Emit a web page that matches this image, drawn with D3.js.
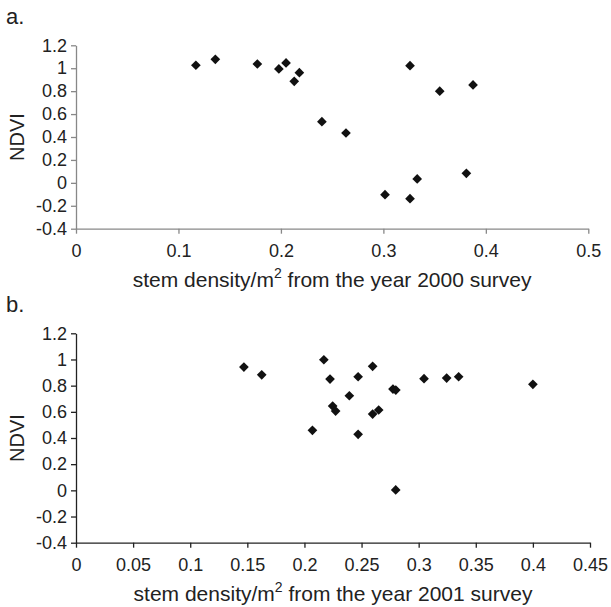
<!DOCTYPE html>
<html>
<head>
<meta charset="utf-8">
<script src="https://cdn.jsdelivr.net/npm/d3@7"></script>
<style>
  body { margin: 0; background: #fff; }
  text { font-family: "Liberation Sans", Arial, sans-serif; }
</style>
</head>
<body>
<svg id="chart" width="611" height="607"></svg>
<script>
// Panel a: 2000 survey
const stem2000 = [0.117, 0.136, 0.177, 0.198, 0.205, 0.213, 0.218, 0.326, 0.355, 0.3875, 0.240, 0.2635, 0.3016, 0.326, 0.333, 0.381];
const ndvi2000 = [1.026, 1.078, 1.037, 0.994, 1.046, 0.886, 0.961, 1.022, 0.80, 0.854, 0.534, 0.435, -0.103, -0.138, 0.034, 0.083];

// Panel b: 2001 survey
const stem2001 = [0.147, 0.1626, 0.207, 0.217, 0.2224, 0.2247, 0.2273, 0.2393, 0.247, 0.247, 0.2597, 0.2597, 0.265, 0.2775, 0.280, 0.2799, 0.3047, 0.3245, 0.335, 0.400];
const ndvi2001 = [0.942, 0.883, 0.459, 0.998, 0.85, 0.644, 0.606, 0.723, 0.868, 0.428, 0.948, 0.583, 0.614, 0.774, 0.766, 0.003, 0.853, 0.858, 0.868, 0.81];

const ndviTicks = [-0.4, -0.2, 0, 0.2, 0.4, 0.6, 0.8, 1, 1.2];
const xTicks2000 = [0, 0.1, 0.2, 0.3, 0.4, 0.5];
const xTicks2001 = [0, 0.05, 0.1, 0.15, 0.2, 0.25, 0.3, 0.35, 0.4, 0.45];

const svg = d3.select("#chart");
const fmt = d => String(+d.toFixed(2));

// Draws one scatter panel.
function drawPanel(opt) {
  const x = d3.scaleLinear().domain([0, opt.xMax]).range([opt.left, opt.right]);
  const y = d3.scaleLinear().domain([-0.4, 1.2]).range([opt.bottom, opt.top]);
  const g = svg.append("g");

  const xAxis = g.append("g")
    .attr("transform", `translate(0, ${opt.bottom})`)
    .call(d3.axisBottom(x).tickValues(opt.xTicks).tickFormat(fmt).tickSize(5).tickSizeOuter(0).tickPadding(11));
  const yAxis = g.append("g")
    .attr("transform", `translate(${opt.left}, 0)`)
    .call(d3.axisLeft(y).tickValues(ndviTicks).tickFormat(fmt).tickSize(5).tickSizeOuter(0).tickPadding(4));

  [xAxis, yAxis].forEach(a => {
    a.selectAll("path, line").attr("stroke", opt.axisColor).attr("stroke-width", 1.3);
    a.selectAll("text").attr("font-size", 18).attr("fill", "#222")
      .attr("font-family", "Liberation Sans, Arial, sans-serif");
  });

  g.selectAll("path.pt")
    .data(opt.xs.map((v, i) => [v, opt.ys[i]]))
    .join("path")
    .attr("class", "pt")
    .attr("d", d3.symbol(d3.symbolDiamond2, 60)())
    .attr("transform", d => `translate(${x(d[0])}, ${y(d[1])})`)
    .attr("fill", "#111");

  // x title with superscript
  const title = g.append("text")
    .attr("x", (opt.left + opt.right) / 2)
    .attr("y", opt.bottom + 58)
    .attr("text-anchor", "middle")
    .attr("font-size", 21)
    .attr("fill", "#222");
  title.append("tspan").text("stem density/m");
  title.append("tspan").attr("dy", -9).attr("font-size", 14).text("2");
  title.append("tspan").attr("dy", 9).text(` from the year ${opt.year} survey`);

  g.append("text")
    .attr("transform", `translate(${opt.left - 52}, ${(opt.top + opt.bottom) / 2}) rotate(-90)`)
    .attr("text-anchor", "middle")
    .attr("font-size", 20)
    .attr("fill", "#222")
    .text("NDVI");

  g.append("text")
    .attr("x", 6)
    .attr("y", opt.top - 21)
    .attr("font-size", 22)
    .attr("fill", "#222")
    .text(opt.label);
}

drawPanel({ label: "a.", year: 2000, xs: stem2000, ys: ndvi2000, xMax: 0.5, xTicks: xTicks2000,
  left: 76, right: 588.3, top: 45.3, bottom: 228.7, axisColor: "#888" });
drawPanel({ label: "b.", year: 2001, xs: stem2001, ys: ndvi2001, xMax: 0.45, xTicks: xTicks2001,
  left: 76, right: 590, top: 333.3, bottom: 542.7, axisColor: "#222" });
</script>
</body>
</html>
